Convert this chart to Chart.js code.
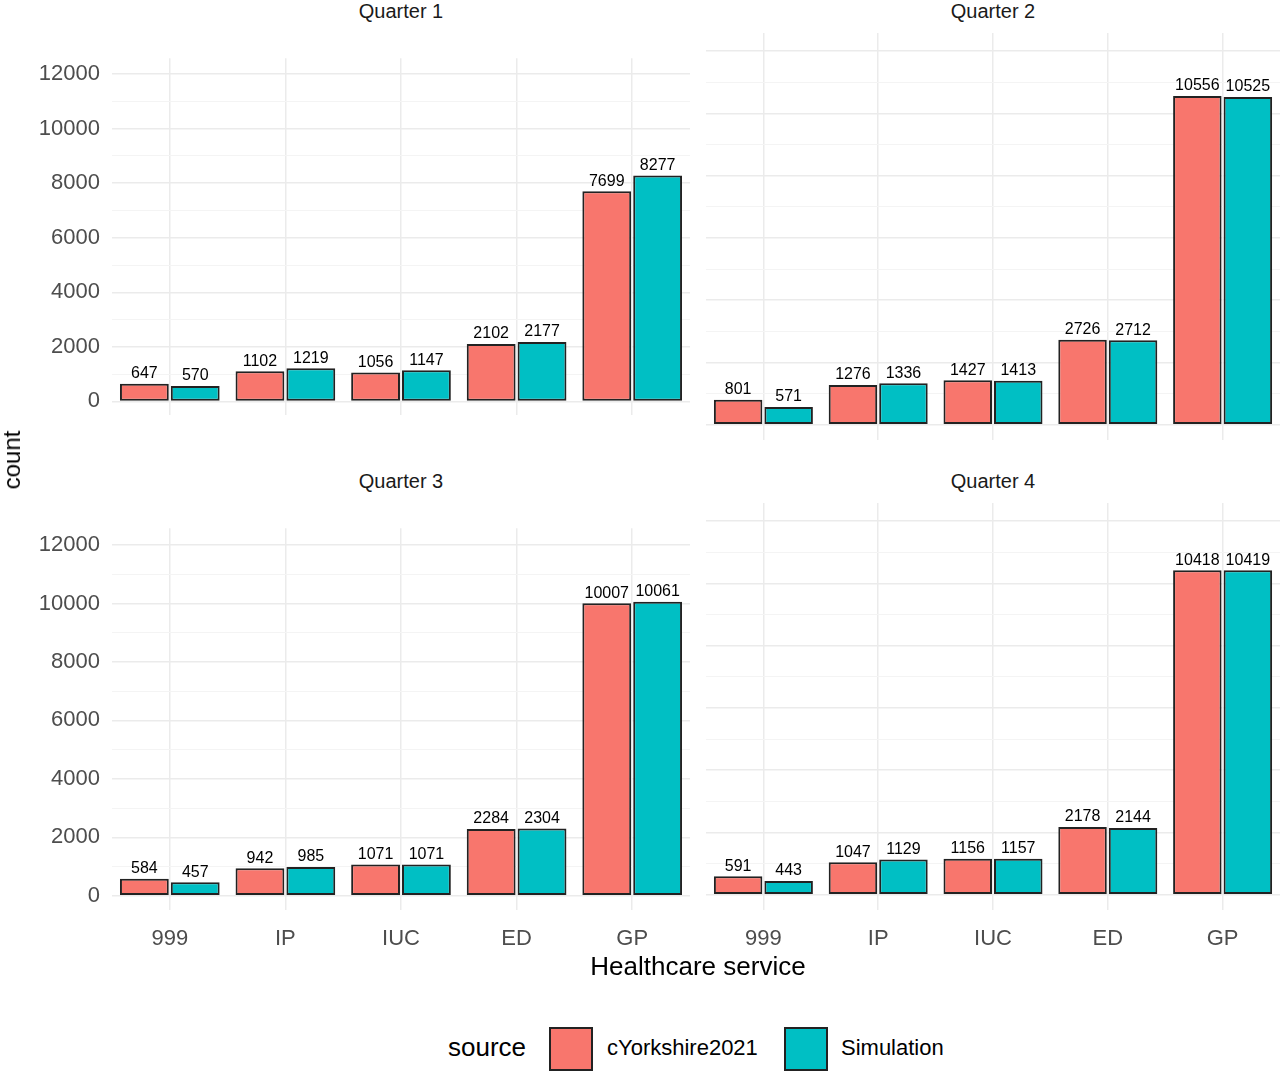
<!DOCTYPE html>
<html><head><meta charset="utf-8">
<script src="https://cdn.jsdelivr.net/npm/chart.js@4"></script>
<style>
body{margin:0;width:1280px;height:1072px;background:#fff;font-family:"Liberation Sans",Arial,sans-serif;position:relative;overflow:hidden}
.c{position:absolute}
.t{position:absolute;color:#1a1a1a;white-space:nowrap}
</style></head><body>
<script>
const categories=["999","IP","IUC","ED","GP"];
const quarters=["Quarter 1","Quarter 2","Quarter 3","Quarter 4"];
const yorkshire=[[647,1102,1056,2102,7699],[801,1276,1427,2726,10556],[584,942,1071,2284,10007],[591,1047,1156,2178,10418]];
const simulation=[[570,1219,1147,2177,8277],[571,1336,1413,2712,10525],[457,985,1071,2304,10061],[443,1129,1157,2144,10419]];
const yTicks=[0,1000,2000,3000,4000,5000,6000,7000,8000,9000,10000,11000,12000];
const RED="#F8766D",TEAL="#00BFC4";

function txt(s,x,y,size,extra){const d=document.createElement('div');d.className='t';d.textContent=s;d.style.left=x+'px';d.style.top=y+'px';d.style.fontSize=size+'px';if(extra)Object.assign(d.style,extra);document.body.appendChild(d);return d;}

const labelPlugin={id:'lbl',afterDatasetsDraw(ch){const c=ch.ctx;c.save();c.font='16px "Liberation Sans",Arial';c.fillStyle='#000';c.textAlign='center';c.textBaseline='bottom';
ch.data.datasets.forEach((ds,i)=>{ch.getDatasetMeta(i).data.forEach((b,j)=>{c.fillText(ds.data[j],b.x,b.y-2);});});c.restore();}};

const panels=[{left:0,w:690,top:33,ax:112,yl:true,xl:false},{left:706,w:574,top:33,ax:0,yl:false,xl:false},
{left:0,w:690,top:503,ax:112,yl:true,xl:true},{left:706,w:574,top:503,ax:0,yl:false,xl:true}];
panels.forEach((p,k)=>{
  const h=407+(p.xl?60:0);
  const cvs=document.createElement('canvas');cvs.className='c';
  cvs.width=p.w;cvs.height=h;
  cvs.style.left=p.left+'px';cvs.style.top=p.top+'px';cvs.style.width=p.w+'px';cvs.style.height=h+'px';
  document.body.appendChild(cvs);
  txt(quarters[k],p.left+p.ax+(p.w-p.ax)/2,p.top-33,20,{transform:'translateX(-50%)'});
  new Chart(cvs,{type:'bar',data:{labels:categories,datasets:[
    {label:'cYorkshire2021',data:yorkshire[k],backgroundColor:RED,borderColor:'#222',borderWidth:2,borderSkipped:false},
    {label:'Simulation',data:simulation[k],backgroundColor:TEAL,borderColor:'#222',borderWidth:2,borderSkipped:false}]},
  options:{responsive:false,animation:false,devicePixelRatio:1,layout:{padding:0},
    plugins:{legend:{display:false},tooltip:{enabled:false}},
    datasets:{bar:{categoryPercentage:0.88,barPercentage:0.96}},
    scales:{
      x:{grid:{offset:false,color:'#ebebeb',lineWidth:1.5,drawTicks:false},border:{display:false},
        ticks:{display:p.xl,font:{size:22,family:'"Liberation Sans",Arial'},color:'#4d4d4d',padding:16},
        afterFit(s){s.height=p.xl?60:0;}},
      y:{min:-490,max:12580,grid:{color:c=>c.tick&&c.tick.value%2000===0?'#ebebeb':'#f4f4f4',lineWidth:c=>c.tick&&c.tick.value%2000===0?1.5:1,drawTicks:false},border:{display:false},
        afterBuildTicks(s){s.ticks=yTicks.map(v=>({value:v}));},
        ticks:{display:p.yl,font:{size:22,family:'"Liberation Sans",Arial'},color:'#4d4d4d',padding:12,callback:v=>v%2000===0?v:''},
        afterFit(s){s.width=p.ax;}}
    }},plugins:[labelPlugin]});
});
txt('count',12,460,24,{transform:'translate(-50%,-50%) rotate(-90deg)',color:'#000'});
txt('Healthcare service',698,951,26,{transform:'translateX(-50%)',color:'#000'});
txt('source',448,1032,26,{color:'#000'});
const box=(x,c)=>{const d=document.createElement('div');d.style.cssText=`position:absolute;left:${x}px;top:1027px;width:40px;height:40px;background:${c};border:2px solid #222`;document.body.appendChild(d);};
box(549,RED);box(784,TEAL);
txt('cYorkshire2021',607,1035,22,{color:'#000'});
txt('Simulation',841,1035,22,{color:'#000'});
</script>
</body></html>
